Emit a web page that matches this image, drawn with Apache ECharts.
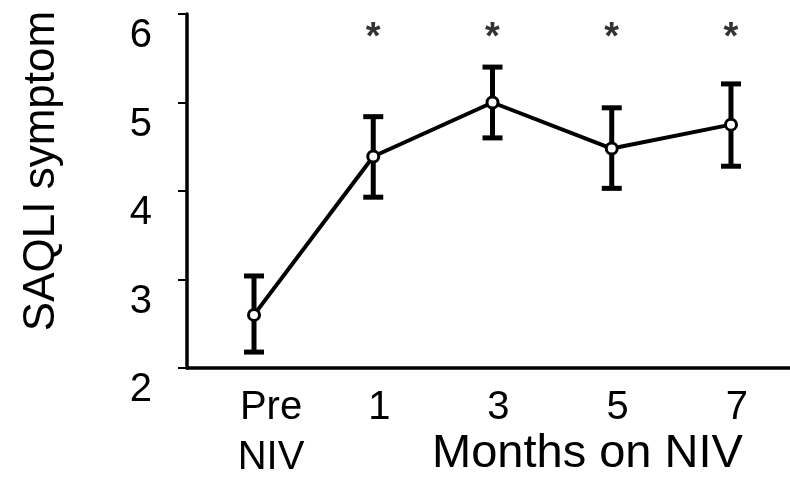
<!DOCTYPE html>
<html>
<head>
<meta charset="utf-8">
<script src="https://cdn.jsdelivr.net/npm/echarts@6/dist/echarts.min.js"></script>
<style>
  html, body { margin: 0; padding: 0; background: #fff; }
  #myChart { width: 790px; height: 478px; }
</style>
</head>
<body>
<div id="myChart"></div>
<script>
  // 数据
  var categories = ['Pre NIV', '1', '3', '5', '7']
  var means = [2.6, 4.39, 5.0, 4.48, 4.75]
  var lower = [2.18, 3.93, 4.6, 4.03, 4.28]
  var upper = [3.04, 4.84, 5.4, 4.94, 5.21]
  var significant = [false, true, true, true, true]
  var yTicks = [2, 3, 4, 5, 6]

  var font = 'Liberation Sans, Arial, sans-serif'
  var myChart = echarts.init(document.getElementById('myChart'))

  var lineData = means.map(function (v, i) { return [i, v] })
  var errData = means.map(function (v, i) { return [i, lower[i], upper[i]] })
  var starData = []
  for (var i = 0; i < significant.length; i++) {
    if (significant[i]) starData.push([i, 5.72])
  }

  myChart.setOption({
    animation: false,
    grid: { left: 187, right: 0, top: 14, bottom: 110 },
    xAxis: {
      type: 'value',
      min: -0.562,
      max: 4.495,
      splitLine: { show: false },
      axisTick: { show: false },
      axisLine: { onZero: false, lineStyle: { color: '#000', width: 3.5 } },
      axisLabel: {
        customValues: [0, 1, 2, 3, 4],
        margin: 15,
        color: '#000',
        fontFamily: font,
        fontSize: 40,
        formatter: function (v) {
          var idx = Math.round(v)
          if (idx === 0) return '{pre|Pre}\n{pre|NIV}'
          return '{n|' + categories[idx] + '}'
        },
        rich: {
          pre: { fontSize: 40, fontFamily: font, color: '#000', lineHeight: 50, padding: [0, 0, 0, 34] },
          n: { fontSize: 40, fontFamily: font, color: '#000', lineHeight: 50, padding: [0, 0, 0, 12] }
        }
      }
    },
    yAxis: {
      type: 'value',
      min: 2,
      max: 6,
      interval: 1,
      splitLine: { show: false },
      axisLine: { show: true, onZero: false, lineStyle: { color: '#000', width: 3.5 } },
      axisTick: { show: true, length: 9, lineStyle: { color: '#000', width: 2 } },
      axisLabel: {
        margin: 35,
        color: '#000',
        fontFamily: font,
        fontSize: 40,
        lineHeight: 44,
        verticalAlign: 'top',
        formatter: function (v) { return yTicks.indexOf(v) >= 0 ? String(v) : '' }
      }
    },
    graphic: [
      {
        type: 'text',
        x: 42,
        y: 171,
        rotation: Math.PI / 2,
        style: {
          text: 'SAQLI symptom',
          font: '44px ' + font,
          fill: '#000',
          textAlign: 'center',
          textVerticalAlign: 'middle'
        }
      },
      {
        type: 'text',
        x: 432,
        y: 431,
        style: {
          text: 'Months on NIV',
          font: '47px ' + font,
          fill: '#000',
          textAlign: 'left',
          textVerticalAlign: 'top'
        }
      }
    ],
    series: [
      {
        name: 'errorbar',
        type: 'custom',
        data: errData,
        z: 2,
        renderItem: function (params, api) {
          var x = api.value(0)
          var lo = api.coord([x, api.value(1)])
          var hi = api.coord([x, api.value(2)])
          var half = 10
          var style = { stroke: '#000', lineWidth: 5, fill: null }
          return {
            type: 'group',
            children: [
              { type: 'line', shape: { x1: lo[0], y1: lo[1], x2: hi[0], y2: hi[1] }, style: style },
              { type: 'line', shape: { x1: lo[0] - half, y1: lo[1], x2: lo[0] + half, y2: lo[1] }, style: style },
              { type: 'line', shape: { x1: hi[0] - half, y1: hi[1], x2: hi[0] + half, y2: hi[1] }, style: style }
            ]
          }
        }
      },
      {
        name: 'mean',
        type: 'line',
        data: lineData,
        z: 3,
        symbol: 'circle',
        symbolSize: 11,
        lineStyle: { color: '#000', width: 4 },
        itemStyle: { color: '#fff', borderColor: '#000', borderWidth: 3 }
      },
      {
        name: 'sig',
        type: 'scatter',
        data: starData,
        symbolSize: 0,
        label: {
          show: true,
          position: 'inside',
          formatter: '*',
          color: '#000',
          fontFamily: font,
          fontWeight: 'bold',
          fontSize: 38
        }
      }
    ]
  })
</script>
</body>
</html>
